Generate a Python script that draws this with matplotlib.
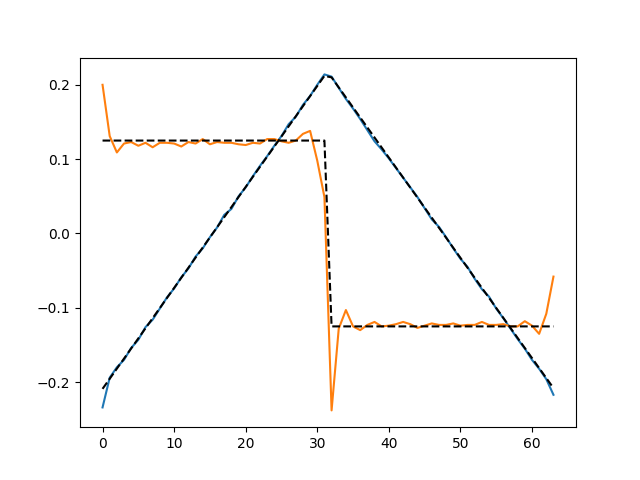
import numpy as np
import matplotlib
matplotlib.use('Agg')
import matplotlib.pyplot as plt

# reconstructed triangle (blue)
tri_rec = [-0.234, -0.194, -0.180, -0.170, -0.154, -0.143, -0.126, -0.116,
           -0.101, -0.086, -0.074, -0.059, -0.047, -0.031, -0.020, -0.005,
           0.008, 0.025, 0.033, 0.050, 0.062, 0.077, 0.091, 0.104,
           0.118, 0.131, 0.147, 0.157, 0.173, 0.185, 0.200, 0.214,
           0.211, 0.196, 0.181, 0.168, 0.154, 0.139, 0.124, 0.113,
           0.101, 0.088, 0.075, 0.062, 0.049, 0.034, 0.019, 0.009,
           -0.005, -0.020, -0.034, -0.045, -0.061, -0.075, -0.085, -0.101,
           -0.114, -0.128, -0.142, -0.155, -0.170, -0.182, -0.196, -0.217]

# reconstructed square (orange)
sq_rec = [0.200, 0.131, 0.109, 0.121, 0.123, 0.118, 0.122, 0.116,
          0.122, 0.122, 0.121, 0.117, 0.123, 0.121, 0.127, 0.120,
          0.123, 0.122, 0.122, 0.120, 0.119, 0.122, 0.121, 0.127,
          0.127, 0.124, 0.122, 0.125, 0.134, 0.138, 0.098, 0.049,
          -0.238, -0.128, -0.103, -0.125, -0.130, -0.123, -0.119, -0.125,
          -0.124, -0.122, -0.119, -0.122, -0.127, -0.124, -0.121, -0.123,
          -0.123, -0.121, -0.124, -0.123, -0.123, -0.119, -0.123, -0.123,
          -0.122, -0.125, -0.125, -0.118, -0.124, -0.135, -0.108, -0.058]

# ideal curves (black dashed), knot points
tri_x = [0, 31, 32, 63]
tri_y = [-0.209, 0.212, 0.210, -0.208]
sq_x = [0, 31, 32, 63]
sq_y = [0.125, 0.125, -0.125, -0.125]

n = np.arange(len(tri_rec))

fig, ax = plt.subplots(figsize=(6.4, 4.8), dpi=100)
ax.plot(n, tri_rec)
ax.plot(n, sq_rec)
ax.plot(tri_x, tri_y, 'k--')
ax.plot(sq_x, sq_y, 'k--')

fig.savefig('out.png')
